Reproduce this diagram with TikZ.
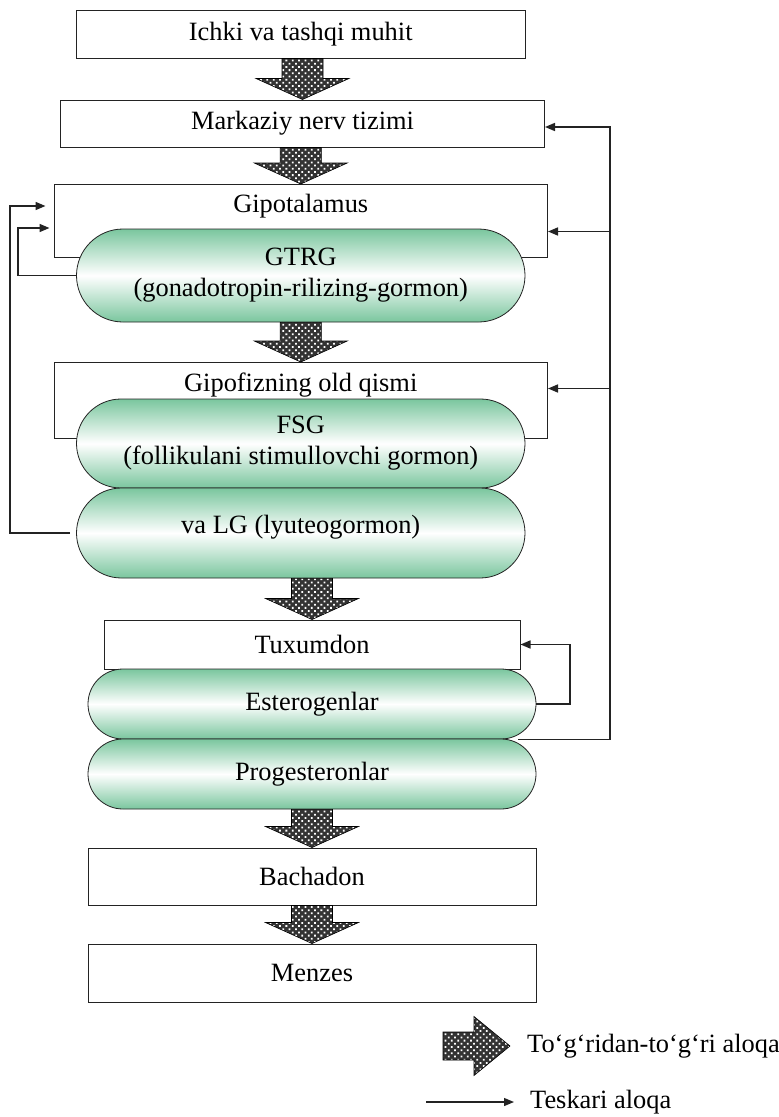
\documentclass[tikz,border=0pt]{standalone}
\usepackage{fontspec}
\setmainfont{Liberation Serif}
\usetikzlibrary{arrows.meta,shapes.misc,calc,patterns.meta}
\definecolor{pillgreen}{RGB}{122,198,158}
\definecolor{ink}{RGB}{35,35,35}

% thick dotted arrow from the bottom of #1 to the top of #2
\newcommand{\fatarrow}[2]{%
  \draw[fat] let \p1=(#1.south), \p2=(#2.north) in
    (\x2-20.5pt,\y1) -- (\x2+20.5pt,\y1) -- (\x2+20.5pt,\y2+21pt)
    -- (\x2+46.5pt,\y2+21pt) -- (\x2,\y2) -- (\x2-46.5pt,\y2+21pt)
    -- (\x2-20.5pt,\y2+21pt) -- cycle;}

\begin{document}
\begin{tikzpicture}[x=1pt, y=-1pt, inner sep=0pt,
  font=\fontsize{26.4}{31}\selectfont,
  box/.style={draw=ink, line width=1pt, fill=white},
  pill/.style={rounded rectangle, draw=ink, line width=0.8pt,
               top color=pillgreen, bottom color=pillgreen, middle color=white,
               align=center},
  fat/.style={draw=black, line width=0.6pt, preaction={fill=black!80},
              pattern={Dots[distance=4.5pt, angle=45, radius=1.25pt]}, pattern color=white},
  fb/.style={draw=ink, line width=1.6pt, -{Triangle[length=10pt,width=8pt]}},
]
\useasboundingbox (0,0) rectangle (779,1117);

% Top: environment and CNS
\node[box, minimum width=448.5pt, minimum height=48pt] (env) at (300.75,34) {Ichki va tashqi muhit};
\node[box, minimum width=484pt, minimum height=47pt] (mnt) at (302.5,123.5) {Markaziy nerv tizimi};

% Hypothalamus
\node[box, anchor=north, minimum width=493.5pt, text height=28pt, text depth=45pt] (gipo) at (300.75,184) {Gipotalamus};
\node[pill, minimum width=448.5pt, minimum height=93pt] (gtrg) at (300.75,275.5) {GTRG\\(gonadotropin-rilizing-gormon)};

% Pituitary
\node[box, anchor=north, minimum width=493.5pt, text height=29pt, text depth=47pt] (gipof) at (300.75,362) {Gipofizning old qismi};
\node[pill, minimum width=448.5pt, minimum height=89pt] (fsg) at (300.75,443.5) {FSG\\(follikulani stimullovchi gormon)};
\node[pill, minimum width=448.5pt, minimum height=90pt, text height=18pt, text depth=18pt] (lg) at (300.75,533) {va LG (lyuteogormon)};

% Ovary
\node[box, minimum width=416pt, minimum height=49pt] (tux) at (312,644.5) {Tuxumdon};
\node[pill, minimum width=448pt, minimum height=70pt] (ester) at (312,704) {Esterogenlar};
\node[pill, minimum width=448pt, minimum height=70pt] (prog) at (312,774) {Progesteronlar};

% Uterus
\node[box, minimum width=448pt, minimum height=57pt] (bach) at (312,876.5) {Bachadon};
\node[box, minimum width=448pt, minimum height=58pt] (menz) at (312,973) {Menzes};

% direct links
\fatarrow{env}{mnt}
\fatarrow{mnt}{gipo}
\fatarrow{gtrg}{gipof}
\fatarrow{lg}{tux}
\fatarrow{prog}{bach}
\fatarrow{bach}{menz}

% feedback
\draw[fb, shorten >=8pt] ([xshift=-6pt]lg.west) -- ++(-60,0) |- ([yshift=-22pt]gipo.north west);
\draw[fb, shorten >=4pt] (gtrg.west) -- ++(-58,0) |- ([yshift=-44pt]gipo.north west);
\draw[fb] ([xshift=206pt]ester.south) -- ++(92,0) coordinate (rr) |- ([yshift=-3.5pt]mnt.east);
\coordinate (gipoin) at ([yshift=-10.5pt]gipo.east);
\coordinate (gipofin) at ([yshift=12pt]gipof.east);
\draw[fb] (rr |- gipoin) -- (gipoin);
\draw[fb] (rr |- gipofin) -- (gipofin);
\draw[fb] (ester.east) -- ++(33.5,0) |- (tux.east);

% legend
\node[anchor=west] (lgd1) at (527,1046) {To‘g‘ridan-to‘g‘ri aloqa};
\node[anchor=west] (lgd2) at (530,1102) {Teskari aloqa};
\draw[fat] let \p1=(lgd1.west) in
  (\x1-84pt,\y1+14pt) -- (\x1-53pt,\y1+14pt) -- (\x1-53pt,\y1+29.5pt) -- (\x1-17pt,\y1)
  -- (\x1-53pt,\y1-29.5pt) -- (\x1-53pt,\y1-14pt) -- (\x1-84pt,\y1-14pt) -- cycle;
\draw[fb, line width=1.2pt] ([xshift=-104pt]lgd2.west) -- ([xshift=-16pt]lgd2.west);
\end{tikzpicture}
\end{document}
